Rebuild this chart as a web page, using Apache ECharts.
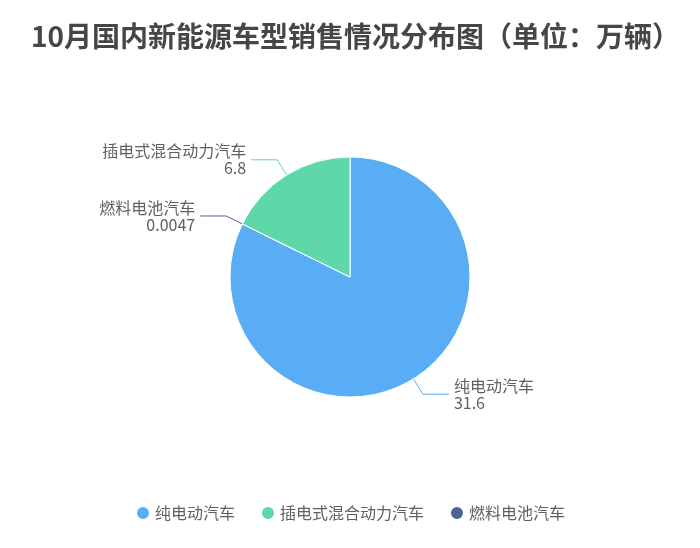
<!DOCTYPE html>
<html lang="zh">
<head>
    <meta charset="UTF-8">
    <title>10月国内新能源车型销售情况分布图</title>
    <script src="https://cdn.jsdelivr.net/npm/echarts@6/dist/echarts.min.js"></script>
    <style>
        html, body { margin: 0; padding: 0; background: #fff; }
        #main { width: 700px; height: 548px; }
    </style>
</head>
<body>
<div id="main"></div>
<script>
    // 数据（单位：万辆）
    var legendNames = ['纯电动汽车', '插电式混合动力汽车', '燃料电池汽车'];
    // 绘制顺序：纯电动从12点方向顺时针，燃料电池夹在纯电动和插电式之间
    var sliceNames = ['纯电动汽车', '燃料电池汽车', '插电式混合动力汽车'];
    var sliceValues = [31.6, 0.0047, 6.8];
    var sliceColors = ['#59adf4', '#4f6394', '#5ed7a9'];

    var font = '"Noto Sans CJK SC", "Noto Sans", sans-serif';

    var pieData = sliceNames.map(function (n, i) {
        return { name: n, value: sliceValues[i], itemStyle: { color: sliceColors[i] } };
    });

    var chart = echarts.init(document.getElementById('main'));
    chart.setOption({
        animation: false,
        title: {
            text: '10月国内新能源车型销售情况分布图（单位：万辆）',
            left: 26,
            top: 17,
            textStyle: {
                fontFamily: font,
                fontSize: 28,
                fontWeight: 'bold',
                color: '#464646'
            }
        },
        legend: {
            data: legendNames,
            left: 'center',
            top: 500,
            icon: 'circle',
            itemWidth: 14,
            itemHeight: 14,
            itemGap: 25,
            textStyle: { fontFamily: font, fontSize: 16, color: '#606060' }
        },
        series: [{
            type: 'pie',
            center: [350, 277],
            radius: 120,
            startAngle: 90,
            clockwise: true,
            avoidLabelOverlap: true,
            itemStyle: { borderColor: '#fff', borderWidth: 1 },
            label: {
                formatter: '{b}\n{c}',
                fontFamily: font,
                fontSize: 16,
                lineHeight: 17,
                color: '#606060'
            },
            labelLine: { length: 18, length2: 26, lineStyle: { width: 1 } },
            emphasis: { disabled: true },
            data: pieData
        }]
    });
</script>
</body>
</html>
